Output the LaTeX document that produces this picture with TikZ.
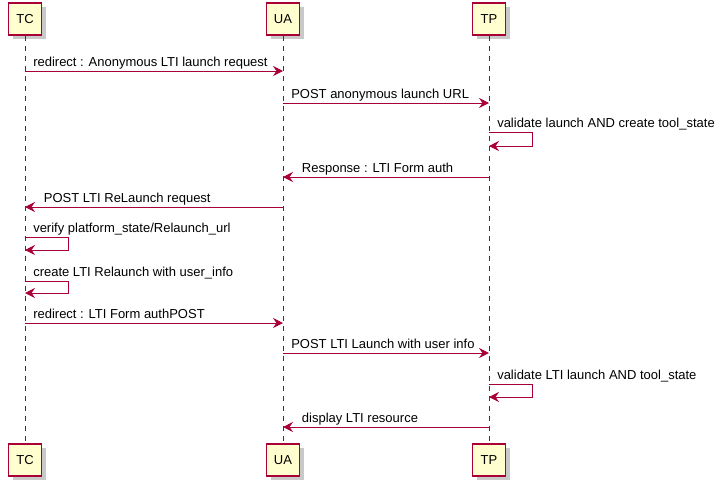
\documentclass[tikz,border=0pt]{standalone}
\usepackage{fontspec}
\setmainfont{Liberation Sans}
\usetikzlibrary{arrows.meta,shadows,positioning}
\definecolor{umlred}{HTML}{A80036}
\definecolor{umlfill}{HTML}{FEFECE}
\tikzset{
  actor/.style={draw=umlred, fill=umlfill, line width=1.1pt,
    minimum width=24.75pt, minimum height=24pt, inner sep=0pt,
    font=\fontsize{9.75}{11}\selectfont,
    drop shadow={shadow xshift=3pt, shadow yshift=-3pt, fill=black!30, opacity=0.7}},
  life/.style={draw=umlred, line width=0.75pt, dash pattern=on 3.75pt off 3.75pt},
  msg/.style={draw=umlred, line width=0.75pt,
    -{Stealth[length=7.5pt,width=7.5pt,inset=2.6pt]}},
  lbl/.style={anchor=base west, inner sep=0pt, font=\fontsize{9.75}{11}\selectfont},
}
\begin{document}
\begin{tikzpicture}[x=0.75pt,y=-0.75pt]
      \useasboundingbox (0,0) rectangle (725,486);
      % Draw participants
      \node[actor] (tc) at (25,19) {TC};
      \node[actor] (ua) at (283,19) {UA};
      \node[actor] (tp) at (489,19) {TP};
      \node[actor] (tcB) at (25,460) {TC};
      \node[actor] (uaB) at (283,460) {UA};
      \node[actor] (tpB) at (489,460) {TP};
      % Draw lifelines
      \draw[life] (tc) -- (tcB);
      \draw[life] (ua) -- (uaB);
      \draw[life] (tp) -- (tpB);
      % Message rows
      \coordinate (m1) at (0,71);
      \coordinate (m2) at (0,103);
      \coordinate (s1) at (0,132);
      \coordinate (s1b) at (0,146);
      \coordinate (m4) at (0,177);
      \coordinate (m5) at (0,207);
      \coordinate (s2) at (0,237);
      \coordinate (s2b) at (0,250);
      \coordinate (s3) at (0,281);
      \coordinate (s3b) at (0,293);
      \coordinate (m8) at (0,323);
      \coordinate (m9) at (0,353);
      \coordinate (s4) at (0,384);
      \coordinate (s4b) at (0,397);
      \coordinate (m11) at (0,427);
      % Draw messages
      \draw[msg] (tc |- m1) -- (ua |- m1);
      \node[lbl] (l1) at ([xshift=6pt,yshift=3.4pt]tc |- m1) {redirect : Anonymous LTI launch request};
      \draw[msg] (ua |- m2) -- (tp |- m2);
      \node[lbl] (l2) at ([xshift=6pt,yshift=3.4pt]ua |- m2) {POST anonymous launch URL};
      \draw[msg] (tp |- s1) -- ++(43,0) |- (tp |- s1b);
      \node[lbl] (l3) at ([xshift=6pt,yshift=3.4pt]tp |- s1) {validate launch AND create tool\textunderscore state};
      \draw[msg] (tp |- m4) -- (ua |- m4);
      \node[lbl] (l4) at ([xshift=14pt,yshift=3.4pt]ua |- m4) {Response : LTI Form auth};
      \draw[msg] (ua |- m5) -- (tc |- m5);
      \node[lbl] (l5) at ([xshift=14pt,yshift=3.4pt]tc |- m5) {POST LTI ReLaunch request};
      \draw[msg] (tc |- s2) -- ++(43,0) |- (tc |- s2b);
      \node[lbl] (l6) at ([xshift=6pt,yshift=3.4pt]tc |- s2) {verify platform\textunderscore state/Relaunch\textunderscore url};
      \draw[msg] (tc |- s3) -- ++(43,0) |- (tc |- s3b);
      \node[lbl] (l7) at ([xshift=6pt,yshift=3.4pt]tc |- s3) {create LTI Relaunch with user\textunderscore info};
      \draw[msg] (tc |- m8) -- (ua |- m8);
      \node[lbl] (l8) at ([xshift=6pt,yshift=3.4pt]tc |- m8) {redirect : LTI Form authPOST};
      \draw[msg] (ua |- m9) -- (tp |- m9);
      \node[lbl] (l9) at ([xshift=6pt,yshift=3.4pt]ua |- m9) {POST LTI Launch with user info};
      \draw[msg] (tp |- s4) -- ++(43,0) |- (tp |- s4b);
      \node[lbl] (l10) at ([xshift=6pt,yshift=3.4pt]tp |- s4) {validate LTI launch AND tool\textunderscore state};
      \draw[msg] (tp |- m11) -- (ua |- m11);
      \node[lbl] (l11) at ([xshift=14pt,yshift=3.4pt]ua |- m11) {display LTI resource};
    \end{tikzpicture}
\end{document}
